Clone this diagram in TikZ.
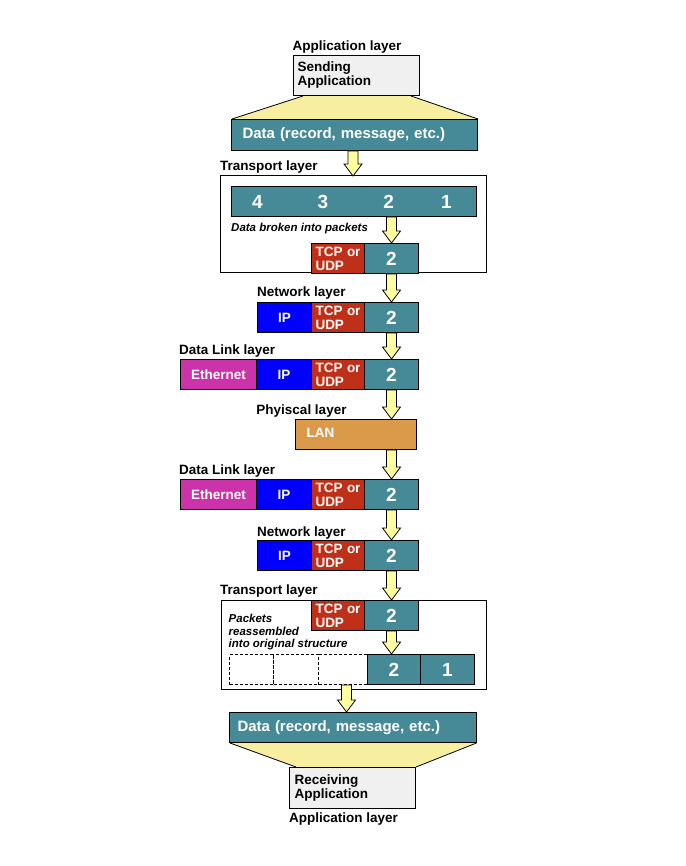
\documentclass[tikz,border=0pt]{standalone}
\usepackage{fontspec}
\setmainfont{Liberation Sans}
\usetikzlibrary{calc,backgrounds}

\definecolor{payload}{RGB}{70,138,152}
\definecolor{tcpred}{RGB}{192,48,24}
\definecolor{ipblue}{RGB}{0,0,255}
\definecolor{ethmag}{RGB}{204,51,170}
\definecolor{lanorange}{RGB}{218,154,74}
\definecolor{appgrey}{RGB}{240,240,240}
\definecolor{funnel}{RGB}{248,238,160}
\definecolor{flowyellow}{RGB}{255,255,160}

% block arrow from #1 (top) down to #2 (tip)
\newcommand\pktarrow[2]{%
  \draw[flow] ($#1+(-5,0)$) -- ($#2+(-5,-12)$) -- ($#2+(-9,-12)$) -- #2
    -- ($#2+(9,-12)$) -- ($#2+(5,-12)$) -- ($#1+(5,0)$) -- cycle;}

\begin{document}
\begin{tikzpicture}[x=1pt,y=-1pt,
  cell/.style={draw=black, line width=1pt, rectangle, inner sep=0pt,
    anchor=north west, minimum height=30, text=white,
    font=\bfseries\fontsize{13.5}{14}\selectfont},
  tcp/.style={cell, fill=tcpred, minimum width=53, text width=45,
    inner xsep=4, align=left},
  seg/.style={cell, fill=payload, minimum width=#1,
    font=\bfseries\fontsize{19}{20}\selectfont},
  ip/.style={cell, fill=ipblue, minimum width=#1},
  eth/.style={cell, fill=ethmag, minimum width=76},
  gapcell/.style={cell, draw=black, dash pattern=on 3pt off 2pt, minimum width=#1},
  app/.style={cell, fill=appgrey, text=black, minimum width=126, align=left},
  datab/.style={cell, fill=payload, font=\bfseries\fontsize{15}{16}\selectfont, align=left},
  layerbox/.style={draw=black, line width=1pt},
  lbl/.style={inner sep=0pt, font=\bfseries\fontsize{13.5}{14}\selectfont},
  note/.style={inner sep=0pt, align=left, font=\bfseries\itshape\fontsize{11.5}{12.5}\selectfont},
  num/.style={inner sep=0pt, text=white, font=\bfseries\fontsize{19}{20}\selectfont},
  flow/.style={fill=flowyellow, draw=black, line width=0.8pt, line join=miter},
  funnelside/.style={draw=black, line width=0.8pt}
]
\useasboundingbox (0,0) rectangle (685,866);

% ---------- sending side ----------
\node[lbl] (applbl1) at (347,47) {Application layer};
\node[app, minimum height=40, text width=118, inner xsep=4] (app1) at (293,55) {Sending\\Application};
\node[datab, minimum height=31, text width=224, inner xsep=11] (data1) at (231,119) {Data (record, message, etc.)};
\begin{scope}[on background layer]
  \fill[funnel] ($(app1.south west)+(10,0)$) -- ($(app1.south east)+(-9,0)$)
    -- (data1.north east) -- ($(data1.north west)+(1,0)$) -- cycle;
  \draw[funnelside] ($(app1.south west)+(10,0)$) -- ($(data1.north west)+(1,0)$);
  \draw[funnelside] ($(app1.south east)+(-9,0)$) -- (data1.north east);
\end{scope}

% ---------- transport layer (split) ----------
\node[lbl, anchor=west] (trlbl1) at (220,167.5) {Transport layer};
\draw[layerbox] (220,176) rectangle (486,273);
\coordinate (tr1top) at (353,176);
\node[seg=245] (bar) at (231,186) {};
\node[num] (n4) at (257.5,201.5) {4};
\node[num] (n3) at (323,201.5) {3};
\node[num] (n2) at (388.7,201.5) {2};
\node[num] (n1) at (446.3,201.5) {1};
\node[note, anchor=west] (splitnote) at (231,229) {Data broken into packets};
\node[tcp] (tt1) at (311,243) {TCP or\\UDP};
\node[seg=54] (tt2) at (364,243) {2};

% ---------- network layer ----------
\node[lbl, anchor=west] (nwlbl1) at (257,293.5) {Network layer};
\node[ip=54] (nip1) at (257,302) {IP};
\node[tcp] (nt1) at (311,302) {TCP or\\UDP};
\node[seg=54] (nt2) at (364,302) {2};

% ---------- data link layer ----------
\node[lbl, anchor=west] (dllbl1) at (179,351.5) {Data Link layer};
\node[eth] (deth1) at (180,359) {Ethernet};
\node[ip=55] (dip1) at (256,359) {IP};
\node[tcp] (dt1) at (311,359) {TCP or\\UDP};
\node[seg=54] (dl2) at (364,359) {2};

% ---------- physical layer ----------
\node[lbl] (phlbl) at (301.5,411.5) {Phyiscal layer};
\node[cell, fill=lanorange, minimum width=121, text width=99, inner xsep=11, align=left] (lan) at (295,419) {\raisebox{3pt}{LAN}};

% ---------- data link layer (receive) ----------
\node[lbl, anchor=west] (dllbl2) at (179,471.5) {Data Link layer};
\node[eth] (deth2) at (180,479) {Ethernet};
\node[ip=55] (dip2) at (256,479) {IP};
\node[tcp] (dt2) at (311,479) {TCP or\\UDP};
\node[seg=54] (dl2b) at (364,479) {2};

% ---------- network layer (receive) ----------
\node[lbl, anchor=west] (nwlbl2) at (257,533) {Network layer};
\node[ip=54] (nip2) at (257,540) {IP};
\node[tcp] (nt2bt) at (311,540) {TCP or\\UDP};
\node[seg=54] (nt2b) at (364,540) {2};

% ---------- transport layer (reassembly) ----------
\node[lbl, anchor=west] (trlbl2) at (220,591) {Transport layer};
\draw[layerbox] (221,600) rectangle (486,689);
\node[tcp] (rt1) at (311,600) {TCP or\\UDP};
\node[seg=54] (rt2) at (364,600) {2};
\node[note, anchor=north west] (joinnote) at (228.5,614) {Packets\\reassembled\\into original structure};
\node[gapcell=44] (d1) at (229,654) {};
\node[gapcell=45] (d2) at (273,654) {};
\node[gapcell=49] (d3) at (318,654) {};
\node[seg=53] (r2) at (367,654) {2};
\node[seg=54] (r1) at (420,654) {1};

% ---------- receiving side ----------
\node[datab, minimum height=30, text width=231, inner xsep=8] (data2) at (229,712) {Data (record, message, etc.)};
\node[app, minimum height=41, text width=116, inner xsep=5] (app2) at (289,767) {Receiving\\Application};
\begin{scope}[on background layer]
  \fill[funnel] ($(data2.south west)+(1,0)$) -- ($(data2.south east)+(-0.5,0)$)
    -- (app2.north east) -- ($(app2.north west)+(7,0)$) -- cycle;
  \draw[funnelside] ($(data2.south west)+(1,0)$) -- ($(app2.north west)+(7,0)$);
  \draw[funnelside] ($(data2.south east)+(-0.5,0)$) -- (app2.north east);
\end{scope}
\node[lbl] (applbl2) at (343.5,819) {Application layer};

% ---------- flow arrows ----------
\pktarrow{(data1.south -| tr1top)}{(tr1top)}
\pktarrow{(bar.south -| tt2.north)}{(tt2.north)}
\pktarrow{(tt2.south)}{(nt2.north)}
\pktarrow{(nt2.south)}{(dl2.north)}
\pktarrow{(dl2.south)}{(lan.north -| dl2.south)}
\pktarrow{(lan.south -| dl2b.north)}{(dl2b.north)}
\pktarrow{(dl2b.south)}{(nt2b.north)}
\pktarrow{(nt2b.south)}{(rt2.north)}
\pktarrow{(rt2.south)}{(r2.north -| rt2.south)}
\coordinate (gap) at ($(d3.south)+(3.5,0)$);
\pktarrow{(gap)}{(gap |- data2.north)}
\end{tikzpicture}
\end{document}
